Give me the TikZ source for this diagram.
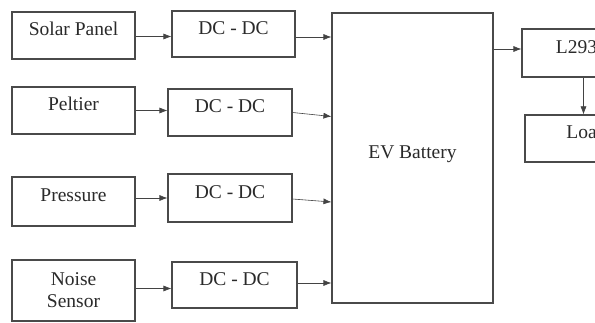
\documentclass[tikz,border=0pt]{standalone}
\usepackage{fontspec}
\setmainfont{Liberation Serif}
\usetikzlibrary{arrows.meta}
\definecolor{edge}{HTML}{4A4A4A}
\definecolor{txt}{HTML}{2A2A2A}
\tikzset{
  box/.style={draw=edge, line width=1.1pt, inner sep=0pt, align=center,
    text=txt, font=\fontsize{19.5}{22}\selectfont, text height=14pt, text depth=13pt},
  conn/.style={draw=edge!90!black, line width=0.6pt, -{Latex[length=8pt,width=6pt]}}
}
\begin{document}
\begin{tikzpicture}[x=1pt,y=-1pt]
\useasboundingbox (0,0) rectangle (595,323);
\clip (0,0) rectangle (595,323);
\fill[white] (0,0) rectangle (595,323);
% sources
\node[box, minimum width=123pt, minimum height=47pt] (sol) at (73.5,35.5) {Solar Panel};
\node[box, minimum width=123pt, minimum height=47pt] (pel) at (73.5,110.5) {Peltier};
\node[box, minimum width=123pt, minimum height=49pt] (pre) at (73.5,201.5) {Pressure};
\node[box, minimum width=123pt, minimum height=61pt, text height=, text depth=] (noi) at (73.5,290.5) {Noise\\Sensor};
% converters
\node[box, minimum width=123pt, minimum height=46pt] (dc1) at (233.5,34) {DC - DC};
\node[box, minimum width=124pt, minimum height=47pt] (dc2) at (230,112.5) {DC - DC};
\node[box, minimum width=124pt, minimum height=48pt] (dc3) at (230,198) {DC - DC};
\node[box, minimum width=125pt, minimum height=46pt] (dc4) at (234.5,285) {DC - DC};
% battery
\node[box, minimum width=161pt, minimum height=290pt] (ev) at (412.5,158) {EV Battery};
% right side
\node[box, minimum width=123pt, minimum height=48pt] (drv) at (583.5,53) {L293D};
\node[box, minimum width=123pt, minimum height=47pt] (load) at (586.5,138.5) {Load};
% connectors
\draw[conn] ([yshift=-1pt]sol.east) -- ([yshift=-1pt]sol.east -| dc1.west);
\draw[conn] (pel.east) -- (pel.east -| dc2.west);
\draw[conn] (dc3.west -| pre.east) -- (dc3.west);
\draw[conn] ([yshift=2pt]noi.east) -- ([yshift=2pt]noi.east -| dc4.west);
\draw[conn] ([yshift=-3pt]dc1.east) -- ([yshift=-3pt]dc1.east -| ev.west);
\draw[conn] ([yshift=0pt]dc2.east) -- ([yshift=-4pt]dc2.east -| ev.west);
\draw[conn] ([yshift=-1pt]dc3.east) -- ([yshift=-4pt]dc3.east -| ev.west);
\draw[conn] ([yshift=2pt]dc4.east) -- ([yshift=2pt]dc4.east -| ev.west);
\draw[conn] ([yshift=4pt]drv.west -| ev.east) -- ([yshift=4pt]drv.west);
\draw[conn] (drv.south) -- (drv.south |- load.north);
\end{tikzpicture}
\end{document}
